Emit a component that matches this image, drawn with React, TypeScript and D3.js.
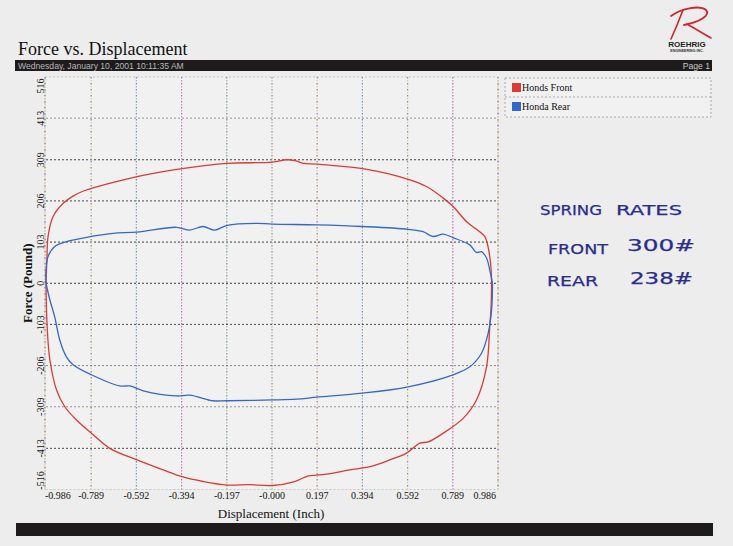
import React from "react";
import * as d3 from "d3";

// Tick labels along each axis
const xTickLabels = ["-0.986", "-0.789", "-0.592", "-0.394", "-0.197", "-0.000", "0.197", "0.394", "0.592", "0.789", "0.986"];
const xTickValues = [-0.986, -0.789, -0.592, -0.394, -0.197, 0, 0.197, 0.394, 0.592, 0.789, 0.986];
const yTickLabels = ["-516", "-413", "-309", "-206", "-103", "0", "103", "206", "309", "413", "516"];
const yTickValues = [-516, -413, -309, -206, -103, 0, 103, 206, 309, 413, 516];

// Honds Front: upper branch (left -> right), lower branch (right -> left)
const frontUpper: [number, number][] = [
  [-0.986, 0], [-0.982, 60], [-0.977, 117], [-0.955, 167], [-0.911, 200], [-0.868, 218],
  [-0.817, 232], [-0.722, 248], [-0.589, 267], [-0.392, 287], [-0.196, 300], [0.002, 303],
  [0.063, 309], [0.106, 306], [0.136, 300], [0.197, 298], [0.395, 287], [0.514, 273],
  [0.594, 260], [0.674, 242], [0.747, 213], [0.790, 192], [0.849, 154], [0.892, 135],
  [0.928, 117], [0.939, 100], [0.950, 67], [0.956, 33], [0.958, 0],
];
const frontLower: [number, number][] = [
  [0.958, 0], [0.956, -55], [0.950, -109], [0.936, -209], [0.892, -292], [0.834, -338],
  [0.747, -375], [0.681, -397], [0.645, -400], [0.587, -425], [0.514, -442], [0.427, -459],
  [0.339, -467], [0.267, -475], [0.197, -480], [0.158, -482], [0.099, -496], [0.002, -506],
  [-0.097, -504], [-0.196, -505], [-0.301, -496], [-0.392, -484], [-0.475, -467], [-0.589, -442],
  [-0.708, -413], [-0.788, -375], [-0.853, -342], [-0.904, -309], [-0.940, -267], [-0.969, -192],
  [-0.981, -109], [-0.986, 0],
];

// Honda Rear: upper branch (left -> right), lower branch (right -> left)
const rearUpper: [number, number][] = [
  [-0.986, 0], [-0.986, 33], [-0.977, 67], [-0.948, 92], [-0.897, 104], [-0.788, 117],
  [-0.693, 125], [-0.589, 128], [-0.417, 140], [-0.359, 133], [-0.301, 142], [-0.250, 133],
  [-0.196, 145], [-0.068, 150], [0.002, 148], [0.197, 146], [0.395, 142], [0.594, 135],
  [0.659, 129], [0.703, 117], [0.747, 123], [0.790, 114], [0.863, 96], [0.892, 77],
  [0.914, 79], [0.936, 63], [0.950, 33], [0.962, 0],
];
const rearLower: [number, number][] = [
  [0.962, 0], [0.958, -67], [0.943, -125], [0.914, -175], [0.863, -209], [0.790, -229],
  [0.594, -259], [0.395, -275], [0.197, -285], [0.107, -290], [0.002, -292], [-0.196, -294],
  [-0.257, -294], [-0.359, -280], [-0.417, -282], [-0.562, -269], [-0.620, -257], [-0.664, -257],
  [-0.788, -229], [-0.868, -204], [-0.897, -184], [-0.926, -142], [-0.948, -84], [-0.969, -42],
  [-0.986, 0],
];

const seriesNames = ["Honds Front", "Honda Rear"];
const seriesColors = ["#dc3a36", "#3468c8"];

// Handwritten notes beside the chart
const noteLines = [
  ["SPRING", "RATES"],
  ["FRONT", "300#"],
  ["REAR", "238#"],
];

const W = 733;
const H = 546;
const plot = { left: 46, right: 498, top: 77, bottom: 489.5 };

// Accent colours of the dotted vertical grid lines
const vAccents = ["#d9d25a", "#d9d25a", "#6cc0a8", "#e070a8", "#7cc46a", "#7fd06a", "#cfd05a", "#6cc0c0", "#d8cf5a", "#e070a8", "#d9d25a"];
const hGridShades = ["#9a9a9a", "#3a3a3a", "#8a8a8a", "#7a7a7a", "#3a3a3a", "#222", "#2a2a2a", "#333", "#333", "#8a8a8a", "#9a9a9a"];

export default function App() {
  const x = d3.scaleLinear().domain([-0.986, 0.986]).range([plot.left, plot.right]);
  const y = d3.scaleLinear().domain([-516, 516]).range([plot.bottom, plot.top]);
  const line = d3
    .line<[number, number]>()
    .x((d) => x(d[0]))
    .y((d) => y(d[1]))
    .curve(d3.curveCatmullRom.alpha(0.5));

  const loops = [
    [frontUpper, frontLower],
    [rearUpper, rearLower],
  ];

  const serif = "'Liberation Serif', 'Times New Roman', serif";
  const sans = "'Liberation Sans', Arial, sans-serif";

  return (
    <svg
      width={W}
      height={H}
      viewBox={`0 0 ${W} ${H}`}
      style={{ position: "fixed", left: 0, top: 0, display: "block" }}
    >
      <rect x={0} y={0} width={W} height={H} fill="#ededed" />

      {/* Logo */}
      <g fill="none" stroke="#d2262a" strokeLinecap="round" strokeLinejoin="round">
        <path d="M683,10 C680,18 676,28 671,39" strokeWidth={1.6} />
        <path d="M671,16 C682,8 700,5 706,10 C711,15 700,22 684,25" strokeWidth={1.8} />
        <path d="M687,24 C694,28 702,33 711,38" strokeWidth={1.6} />
      </g>
      <text x={687} y={47} fontFamily={sans} fontWeight="bold" fontSize={8} textAnchor="middle" fill="#222">
        ROEHRIG
      </text>
      <text x={687} y={52} fontFamily={sans} fontWeight="bold" fontSize={3.6} textAnchor="middle" fill="#333">
        ENGINEERING INC.
      </text>

      {/* Title and header bar */}
      <text x={18} y={55} fontFamily={serif} fontSize={18} fill="#111">
        Force vs. Displacement
      </text>
      <rect x={15} y={60} width={697} height={11} fill="#1e1b1c" />
      <text x={18} y={69} fontFamily={sans} fontSize={8.6} fill="#b8b8b8">
        Wednesday, January 10, 2001 10:11:35 AM
      </text>
      <text x={710} y={69} fontFamily={sans} fontSize={8.6} fill="#c8c8c8" textAnchor="end">
        Page 1
      </text>

      {/* Plot frame */}
      <rect
        x={plot.left - 1}
        y={plot.top}
        width={plot.right - plot.left + 1}
        height={plot.bottom - plot.top}
        fill="#f1f1f1"
        stroke="#bbb"
        strokeWidth={0.8}
        strokeDasharray="2,2"
      />

      {/* Horizontal grid */}
      {yTickValues.map((v, i) =>
        i === 0 || i === yTickValues.length - 1 ? null : (
          <line
            key={"h" + i}
            x1={plot.left}
            x2={plot.right}
            y1={y(v)}
            y2={y(v)}
            stroke={hGridShades[i]}
            strokeWidth={0.9}
            strokeDasharray="2,2"
          />
        )
      )}

      {/* Vertical grid */}
      {xTickValues.map((v, i) => {
        const xx = i === 0 ? plot.left - 1 : x(v);
        return (
          <g key={"v" + i}>
            <line x1={xx} x2={xx} y1={plot.top} y2={plot.bottom} stroke="#7650a8" strokeWidth={0.9} strokeDasharray="1.5,4.5" />
            <line
              x1={xx}
              x2={xx}
              y1={plot.top}
              y2={plot.bottom}
              stroke={vAccents[i]}
              strokeWidth={1}
              strokeDasharray="1.5,4.5"
              strokeDashoffset={3}
            />
          </g>
        );
      })}

      {/* Curves */}
      {loops.map((parts, si) => (
        <g key={"s" + si}>
          {parts.map((pts, pi) => (
            <path key={pi} d={line(pts) || ""} fill="none" stroke={seriesColors[si]} strokeWidth={1.3} />
          ))}
        </g>
      ))}

      {/* X tick labels */}
      {xTickValues.map((v, i) => {
        const last = xTickValues.length - 1;
        const anchor = i === 0 ? "start" : i === last ? "end" : "middle";
        const xx = i === 0 ? plot.left - 1 : i === last ? plot.right - 2 : x(v);
        return (
          <text key={"xl" + i} x={xx} y={499} fontFamily={serif} fontSize={10} textAnchor={anchor} fill="#111">
            {xTickLabels[i]}
          </text>
        );
      })}

      {/* Y tick labels */}
      {yTickValues.map((v, i) => {
        const last = yTickValues.length - 1;
        const cy = i === 0 ? plot.bottom - 9 : i === last ? plot.top + 9 : y(v);
        return (
          <text
            key={"yl" + i}
            transform={`translate(44,${cy}) rotate(-90)`}
            fontFamily={serif}
            fontSize={10}
            textAnchor="middle"
            fill="#111"
          >
            {yTickLabels[i]}
          </text>
        );
      })}

      {/* Axis titles */}
      <text x={271} y={518} fontFamily={serif} fontSize={13} textAnchor="middle" fill="#111">
        Displacement (Inch)
      </text>
      <text
        transform={`translate(32,${y(0)}) rotate(-90)`}
        fontFamily={serif}
        fontSize={13}
        fontWeight="bold"
        textAnchor="middle"
        fill="#111"
      >
        Force (Pound)
      </text>

      {/* Legend */}
      <g>
        <rect x={505} y={78} width={206} height={39} fill="#f1f1f1" stroke="#999" strokeWidth={0.8} strokeDasharray="2,2" />
        <line x1={505} x2={711} y1={97} y2={97} stroke="#999" strokeWidth={0.8} strokeDasharray="2,2" />
        {seriesNames.map((name, i) => (
          <g key={"lg" + i}>
            <rect x={512} y={83 + i * 19} width={9} height={9} fill={seriesColors[i]} />
            <text x={522} y={91 + i * 19} fontFamily={serif} fontSize={10} fill="#111">
              {name}
            </text>
          </g>
        ))}
      </g>

      {/* Bottom bar */}
      <rect x={16} y={523} width={697} height={13} fill="#1e1b1c" />

      {/* Handwritten notes */}
      <g fontFamily="'DejaVu Sans', sans-serif" fill="#2a2d8e" stroke="#2a2d8e" strokeWidth={0.25}>
        <text x={540} y={215} fontSize={14} textLength={62} lengthAdjust="spacingAndGlyphs">{noteLines[0][0]}</text>
        <text x={616} y={215} fontSize={14} textLength={66} lengthAdjust="spacingAndGlyphs">{noteLines[0][1]}</text>
        <text x={548} y={254} fontSize={14} textLength={60} lengthAdjust="spacingAndGlyphs">{noteLines[1][0]}</text>
        <text x={627} y={251} fontSize={15} textLength={68} lengthAdjust="spacingAndGlyphs">{noteLines[1][1]}</text>
        <text x={547} y={286} fontSize={14} textLength={51} lengthAdjust="spacingAndGlyphs">{noteLines[2][0]}</text>
        <text x={630} y={284} fontSize={15} textLength={63} lengthAdjust="spacingAndGlyphs">{noteLines[2][1]}</text>
      </g>
    </svg>
  );
}
